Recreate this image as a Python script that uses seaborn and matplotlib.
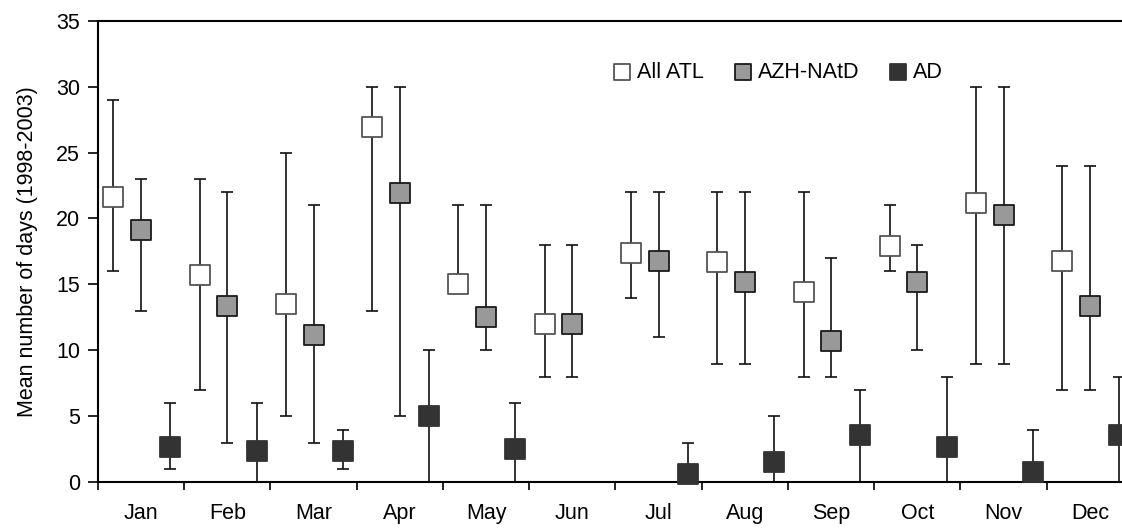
import numpy as np
import pandas as pd
import matplotlib
matplotlib.use("Agg")
import matplotlib.pyplot as plt
import seaborn as sns

months = ['Jan', 'Feb', 'Mar', 'Apr', 'May', 'Jun', 'Jul', 'Aug', 'Sep', 'Oct', 'Nov', 'Dec']
series = ['All ATL', 'AZH-NAtD', 'AD']

# mean, upper end, lower end of the range bars
atl_mean = [21.6, 15.7, 13.5, 26.9, 15.0, 12.0, 17.4, 16.7, 14.4, 17.9, 21.2, 16.8]
atl_high = [29, 23, 25, 30, 21, 18, 22, 22, 22, 21, 30, 24]
atl_low = [16, 7, 5, 13, 15.0, 8, 14, 9, 8, 16, 9, 7]

azh_mean = [19.1, 13.4, 11.2, 21.9, 12.5, 12.0, 16.8, 15.2, 10.7, 15.2, 20.3, 13.4]
azh_high = [23, 22, 21, 30, 21, 18, 22, 22, 17, 18, 30, 24]
azh_low = [13, 3, 3, 5, 10, 8, 11, 9, 8, 10, 9, 7]

ad_mean = [2.7, 2.4, 2.4, 5.0, 2.5, np.nan, 0.6, 1.5, 3.6, 2.7, 0.8, 3.6]
ad_high = [6, 6, 4, 10, 6, np.nan, 3, 5, 7, 8, 4, 8]
ad_low = [1, 0, 1, 0, 0, np.nan, 0, 0, 0, 0, 0, 0]

offsets = {'All ATL': -0.32, 'AZH-NAtD': 0.0, 'AD': 0.34}
faces = {'All ATL': '#ffffff', 'AZH-NAtD': '#999999', 'AD': '#333333'}
edges = {'All ATL': '#555555', 'AZH-NAtD': '#1a1a1a', 'AD': '#333333'}

rows = []
for name, m, hi, lo in [('All ATL', atl_mean, atl_high, atl_low),
                        ('AZH-NAtD', azh_mean, azh_high, azh_low),
                        ('AD', ad_mean, ad_high, ad_low)]:
    for i, mon in enumerate(months):
        rows.append({'series': name, 'month': mon, 'pos': i + offsets[name],
                     'mean': m[i], 'high': hi[i], 'low': lo[i]})
df = pd.DataFrame(rows).dropna()

sns.set_style("ticks")
plt.rcParams['font.family'] = ['Liberation Sans', 'DejaVu Sans']
plt.rcParams['font.size'] = 15.5
for k in ['text.color', 'axes.labelcolor', 'xtick.color', 'ytick.color']:
    plt.rcParams[k] = 'black'

fig = plt.figure(figsize=(11.22, 5.28), dpi=100)
ax = fig.add_axes([0.0873, 0.0866, 0.9225, 0.8743])

for name in series:
    d = df[df.series == name]
    ax.errorbar(d['pos'], d['mean'],
                yerr=[d['mean'] - d['low'], d['high'] - d['mean']],
                fmt='none', ecolor='#111111', elinewidth=1.2, capsize=4.5,
                capthick=1.2, zorder=2)
    sns.scatterplot(data=d, x='pos', y='mean', ax=ax, marker='s', s=210,
                    color=faces[name], edgecolor=edges[name], linewidth=1.3,
                    label=name, zorder=3, clip_on=False)

ax.set_xlim(-0.5, 11.5)
ax.set_ylim(0, 35)
ax.set_yticks(range(0, 36, 5))
ax.set_xticks(np.arange(-0.5, 12, 1))
ax.set_xticklabels([])
ax.set_xticks(np.arange(12), minor=True)
ax.set_xticklabels(months, minor=True)
ax.tick_params(axis='x', which='minor', length=0, pad=15)
ax.tick_params(axis='x', which='major', length=6, width=1.2, color='black')
ax.tick_params(axis='y', length=7, width=1.2, color='black', pad=6)
for sp in ax.spines.values():
    sp.set_linewidth(1.5)
    sp.set_color('black')
ax.set_xlabel('')
ax.set_ylabel('Mean number of days (1998-2003)', labelpad=13)

leg = ax.legend(loc='upper left', bbox_to_anchor=(0.49, 0.93), ncol=3, frameon=False,
                handlelength=0.8, handletextpad=0.3, columnspacing=1.4,
                markerscale=0.75, borderaxespad=0, fontsize=15.5)

fig.savefig('out.png', dpi=100)
